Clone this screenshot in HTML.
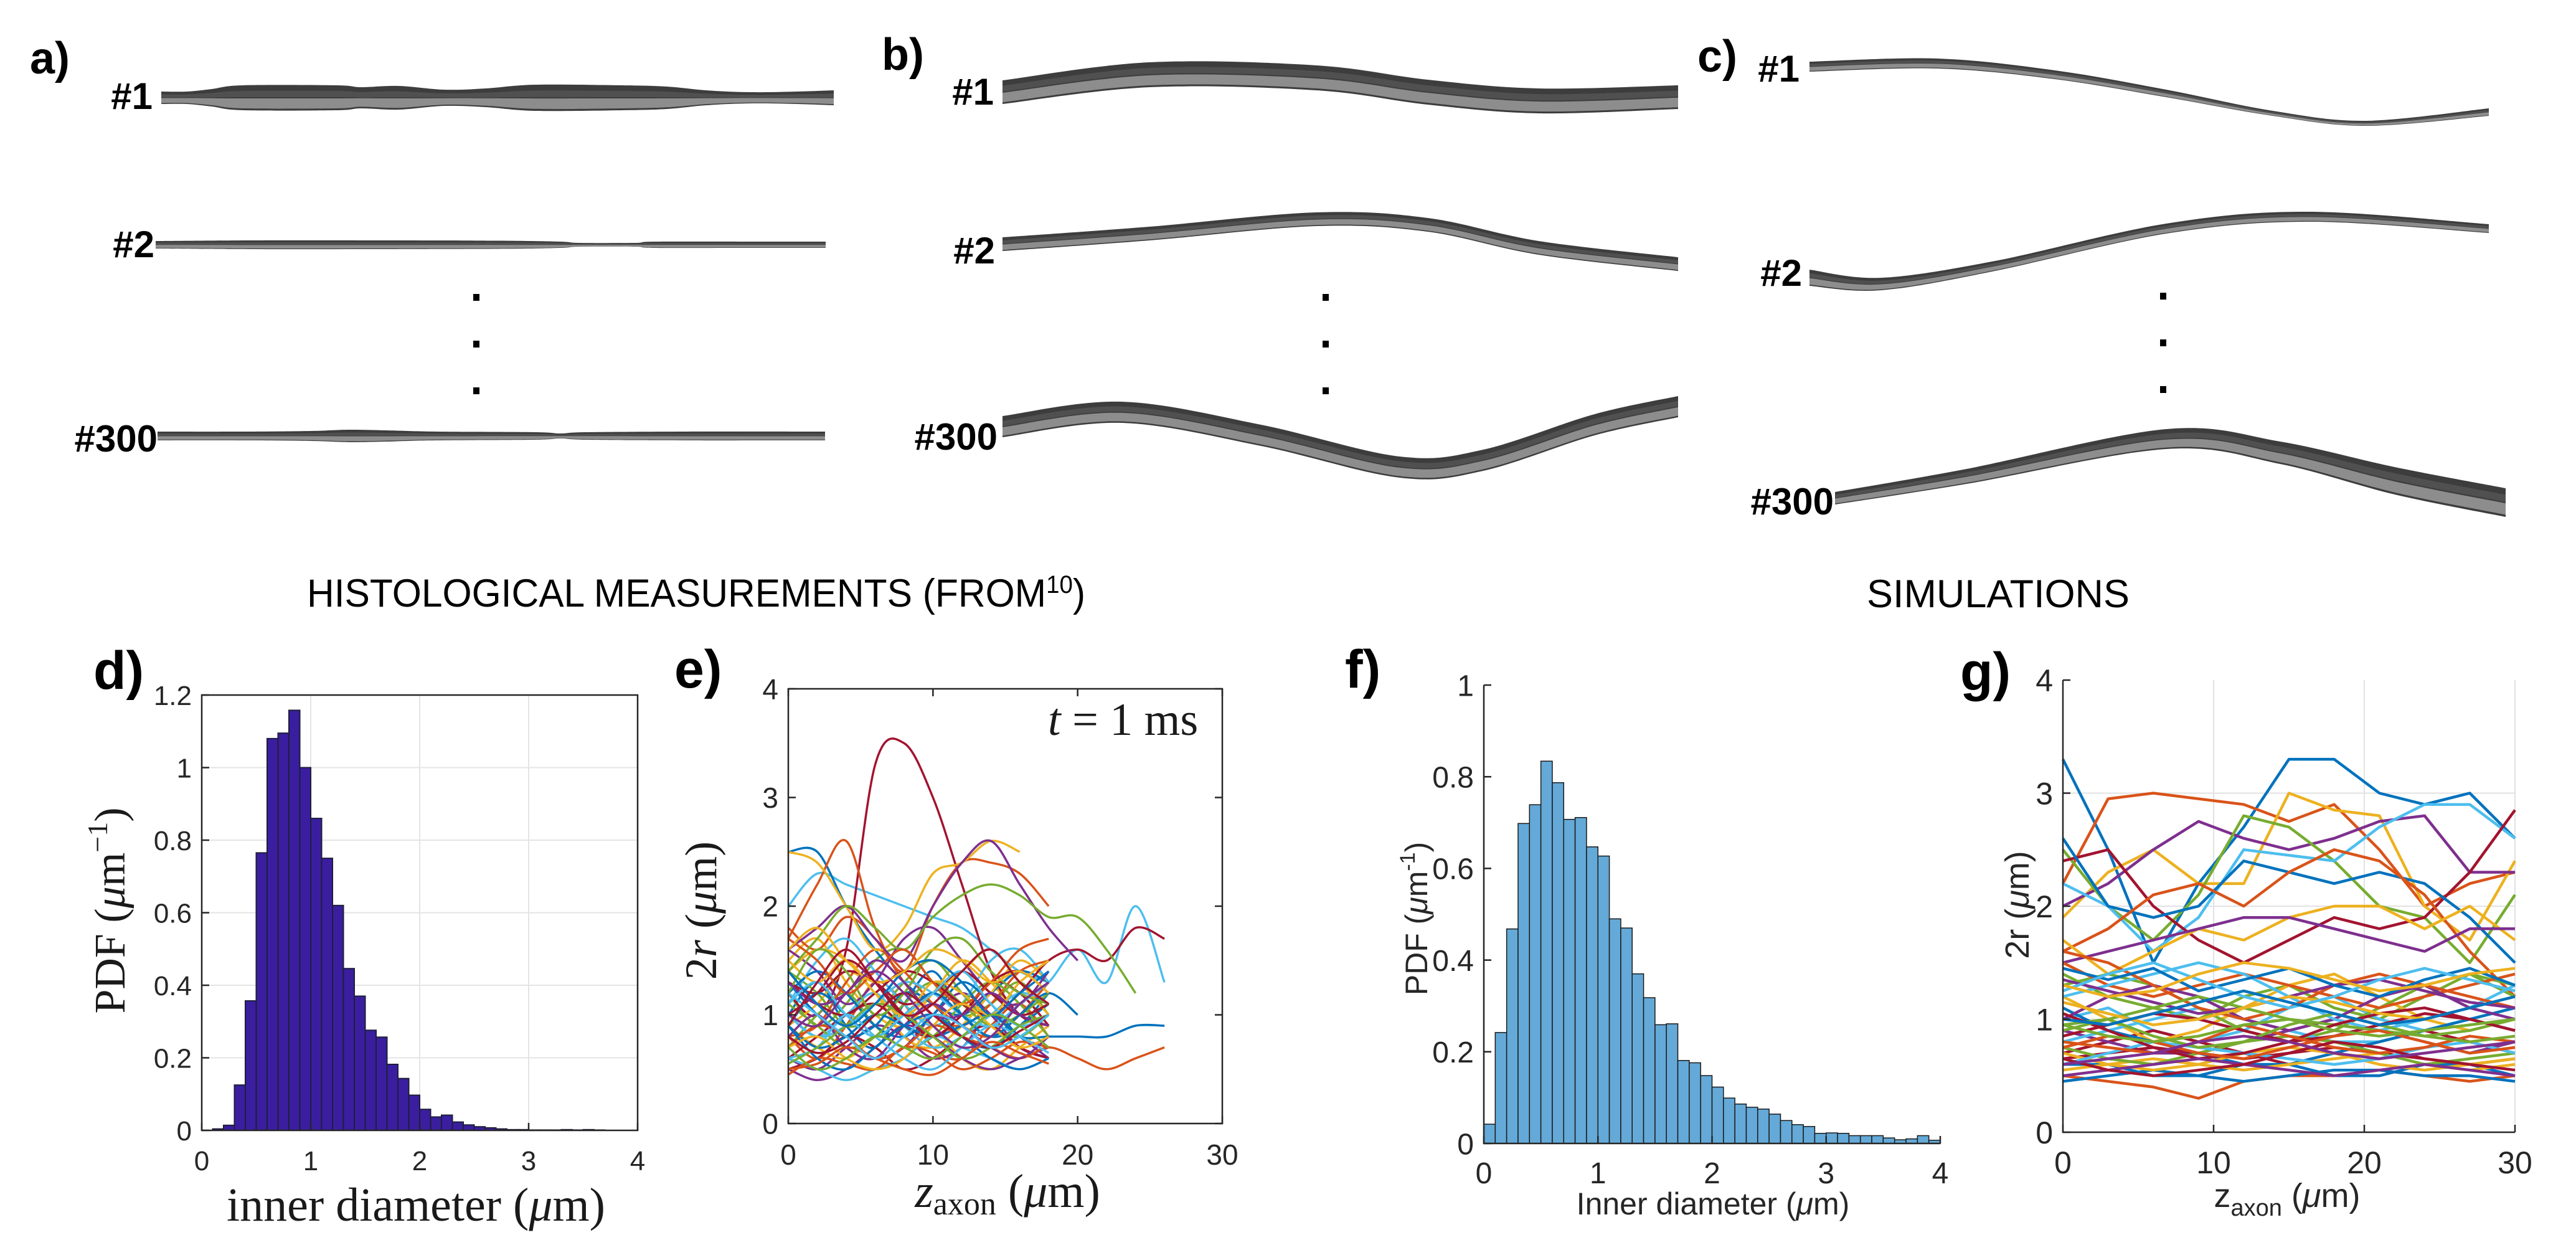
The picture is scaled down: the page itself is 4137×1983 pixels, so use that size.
<!DOCTYPE html>
<html><head><meta charset="utf-8"><title>Axon morphology figure</title>
<style>
html,body{margin:0;padding:0;background:#fff;}
svg{display:block;}
.lbl{font-family:"Liberation Sans",Arial,sans-serif;font-weight:bold;fill:#000;}
.tick{font-family:"Liberation Sans",Arial,sans-serif;fill:#262626;}
.serif{font-family:"Liberation Serif","Times New Roman",serif;fill:#1a1a1a;}
</style></head>
<body>
<svg id="fig" xmlns="http://www.w3.org/2000/svg" width="4137" height="1983" viewBox="0 0 4137 1983">
<rect width="4137" height="1983" fill="#fff"/>
<text class="lbl" x="48" y="118" font-size="72">a)</text>
<text class="lbl" x="1416" y="112" font-size="72">b)</text>
<text class="lbl" x="2726" y="115" font-size="72">c)</text>
<g id="axons"></g>
<g class="lbl" font-size="60" text-anchor="end">
<text x="245" y="175">#1</text>
<text x="248" y="413">#2</text>
<text x="253" y="725">#300</text>
<text x="1596" y="168">#1</text>
<text x="1598" y="423">#2</text>
<text x="1602" y="722">#300</text>
<text x="2890" y="131">#1</text>
<text x="2894" y="459">#2</text>
<text x="2945" y="826">#300</text>
</g>
<g fill="#000">
<rect x="760" y="472" width="10" height="11"/><rect x="760" y="547" width="10" height="11"/><rect x="760" y="622" width="10" height="11"/>
<rect x="2124" y="472" width="10" height="11"/><rect x="2124" y="547" width="10" height="11"/><rect x="2124" y="622" width="10" height="11"/>
<rect x="3469" y="470" width="10" height="11"/><rect x="3469" y="545" width="10" height="11"/><rect x="3469" y="620" width="10" height="11"/>
</g>
<text font-family="'Liberation Sans',Arial,sans-serif" font-size="63" x="493" y="974" textLength="1250" lengthAdjust="spacingAndGlyphs">HISTOLOGICAL MEASUREMENTS (FROM<tspan font-size="40" dy="-22">10</tspan><tspan dy="22">)</tspan></text>
<text font-family="'Liberation Sans',Arial,sans-serif" font-size="63" x="2998" y="975" textLength="422" lengthAdjust="spacingAndGlyphs">SIMULATIONS</text>
<text class="lbl" x="150" y="1106" font-size="86">d)</text>
<text class="lbl" x="1083" y="1104" font-size="86">e)</text>
<text class="lbl" x="2160" y="1104" font-size="86">f)</text>
<text class="lbl" x="3148" y="1108" font-size="86">g)</text>
<g id="chart-d"></g>
<g id="chart-e"></g>
<g id="chart-f"></g>
<g id="chart-g"></g>
</svg>
<script>
// ---------- data ----------
const dBinStart = 0.1;
const dBinWidth = 0.1;
const dValues = [0.004,0.014,0.125,0.357,0.765,1.08,1.095,1.158,1.0,0.86,0.75,0.62,0.446,0.37,0.276,0.257,0.182,0.143,0.097,0.058,0.037,0.042,0.023,0.015,0.01,0.007,0.004,0.002,0.002,0.001,0.001,0.001,0.002,0.001,0.002,0.001];
const dXTicks = [0,1,2,3,4];
const dYTicks = [0,0.2,0.4,0.6,0.8,1,1.2];
const dYTickLabels = ["0","0.2","0.4","0.6","0.8","1","1.2"];

const fBinStart = 0;
const fBinWidth = 0.1;
const fValues = [0.042,0.242,0.468,0.698,0.739,0.834,0.787,0.707,0.711,0.647,0.627,0.49,0.47,0.37,0.318,0.259,0.261,0.181,0.176,0.148,0.123,0.099,0.086,0.079,0.075,0.064,0.05,0.041,0.037,0.022,0.023,0.022,0.017,0.017,0.017,0.012,0.008,0.01,0.017,0.007];
const fXTicks = [0,1,2,3,4];
const fYTicks = [0,0.2,0.4,0.6,0.8,1];
const fYTickLabels = ["0","0.2","0.4","0.6","0.8","1"];

const eXStep = 2;
const eSeries = [
[1.0,1.3,0.9,0.7,1.1,1.4,1.0,0.8,0.9,1.2],
[0.8,0.6,0.9,1.3,1.1,0.7,0.6,0.9,1.1,0.8],
[1.5,1.7,1.3,1.0,0.9,1.2,1.5,1.3,1.0,0.9],
[0.6,0.5,0.7,0.9,0.8,0.6,0.7,1.0,0.8,0.6],
[1.2,0.9,1.1,1.5,1.6,1.3,1.0,1.1,1.3,1.0],
[2.0,2.3,2.2,2.1,2.0,1.9,1.8,1.6,1.4,1.3],
[1.2,1.0,1.6,3.3,3.5,3.0,2.2,1.4,1.0,0.9],
[2.5,2.5,2.0,1.6,1.3,1.1,1.0,1.2,1.4,1.3],
[1.7,2.2,2.6,1.8,1.4,2.0,2.4,2.4,2.3,2.0],
[0.9,1.1,1.4,1.2,0.8,0.7,0.9,1.2,1.5,1.3],
[0.7,0.9,0.8,0.6,0.7,1.0,1.2,1.0,0.7,0.6],
[1.4,1.2,0.9,1.0,1.3,1.5,1.2,0.9,0.8,1.0],
[1.1,1.5,1.7,1.4,1.1,0.9,1.1,1.5,1.6,1.3],
[0.5,0.6,0.8,0.7,0.5,0.6,0.8,0.9,0.7,0.6],
[1.3,1.0,0.8,0.9,1.2,1.1,0.8,0.7,0.9,1.1],
[1.8,1.6,1.9,1.7,1.3,1.0,0.9,1.1,1.4,1.5],
[0.9,0.7,0.6,0.8,1.0,0.9,0.6,0.5,0.7,0.9],
[1.6,1.4,1.1,1.3,1.7,1.8,1.5,1.2,1.1,1.4],
[0.7,1.0,1.2,0.9,0.7,0.8,1.1,1.3,1.1,0.8],
[1.0,0.8,1.0,1.2,0.9,0.7,0.8,1.0,1.2,1.1],
[0.6,0.8,1.0,1.1,0.9,0.8,1.0,1.3,1.2,0.9],
[1.2,1.4,1.2,0.9,0.8,1.0,1.3,1.1,0.8,0.7],
[0.8,0.9,1.3,1.6,1.4,1.1,0.9,0.8,1.0,1.3],
[1.4,1.6,1.5,1.2,1.0,1.2,1.4,1.6,1.3,1.0],
[0.5,0.4,0.5,0.7,0.9,0.8,0.6,0.5,0.6,0.7],
[1.1,0.9,0.7,0.8,1.1,1.3,1.1,0.9,1.0,1.2],
[1.0,0.8,0.9,1.1,1.3,1.2,1.0,0.9,1.1,1.3,1.6,1.3,2.0,1.3],
[1.3,1.1,1.0,1.2,1.4,1.3,1.1,1.0,1.2,1.5,1.6,1.5,1.8,1.7],
[0.9,0.7,0.8,1.0,0.9,0.8,0.9,1.0,0.8,0.8,0.8,0.8,0.9,0.9],
[0.7,0.9,0.8,0.6,0.7,0.9,0.8,0.7,0.6,0.7,0.6,0.5,0.6,0.7],
[2.5,2.4,2.0,1.6,1.8,2.3,2.4,2.6,2.5],
[1.6,1.8,2.0,1.7,1.5,2.0,2.4,2.6,2.2,1.8,1.5],
[1.4,1.7,2.0,1.8,1.6,1.9,2.1,2.2,2.1,1.9,1.9,1.6,1.2],
[0.6,0.5,0.4,0.5,0.6,0.8,0.7,0.6,0.5,0.6],
[1.3,1.2,1.4,1.3,1.1,1.2,1.4,1.2,1.0,1.1],
[0.9,1.2,1.0,0.8,1.0,1.2,1.0,0.8,1.0,1.2,1.0],
[0.45,0.6,0.55,0.5,0.7,0.65,0.5,0.6,0.75,0.7],
[1.5,1.3,1.5,1.2,1.0,1.3,1.2,1.0,1.3,1.5],
[0.8,1.0,0.7,0.6,0.9,1.1,0.9,0.7,0.6,0.8],
[1.2,1.6,1.4,1.0,1.2,1.6,1.7,1.4,1.2,1.1],
[0.6,0.7,1.0,0.8,0.6,0.5,0.7,0.9,0.8,0.65],
[1.0,1.2,1.5,1.3,1.0,0.8,1.0,1.3,1.4,1.2],
[0.9,0.6,0.5,0.7,0.9,1.0,0.8,0.6,0.5,0.6],
[1.7,1.5,1.2,1.4,1.6,1.3,1.1,1.3,1.6,1.7],
[0.7,0.8,0.6,0.5,0.6,0.9,1.1,0.9,0.7,0.8],
[1.3,1.1,1.2,1.5,1.3,1.0,1.0,1.2,1.0,0.9],
[0.55,0.7,0.9,1.1,1.0,0.8,0.6,0.7,0.9,1.0],
[1.1,1.3,1.0,0.8,1.0,1.2,1.4,1.1,0.9,1.0],
[0.8,0.65,0.75,1.0,1.2,1.0,0.8,0.7,0.85,1.0],
[1.4,1.1,0.9,1.1,1.4,1.5,1.3,1.0,1.2,1.4],
[0.5,0.55,0.7,0.6,0.5,0.45,0.6,0.75,0.65,0.55],
[1.6,1.8,1.5,1.3,1.4,1.6,1.5,1.3,1.4,1.2],
[1.0,0.9,1.2,1.4,1.2,0.9,0.7,0.8,1.1,1.3],
[0.7,0.5,0.6,0.8,0.7,0.6,0.8,1.0,0.9,0.7],
[1.2,1.0,0.8,0.6,0.8,1.0,0.9,0.7,0.8,1.0],
[0.9,1.3,1.6,1.3,1.0,1.1,1.4,1.6,1.3,1.1]
];
const eXTicks = [0,10,20,30];
const eYTicks = [0,1,2,3,4];

const gXStep = 3;
const gSeries = [
[3.3,2.5,1.5,2.2,2.7,3.3,3.3,3.0,2.9,3.0,2.6],
[2.2,2.95,3.0,2.95,2.9,2.75,2.9,2.5,2.0,2.2,2.3],
[1.9,2.3,2.5,2.2,2.2,3.0,2.85,2.8,2.0,1.7,2.4],
[2.0,2.2,2.5,2.75,2.6,2.5,2.6,2.75,2.8,2.3,2.3],
[2.5,2.0,1.7,2.1,2.8,2.7,2.4,2.0,1.9,1.5,2.1],
[2.2,2.0,1.6,1.9,2.5,2.45,2.4,2.7,2.9,2.9,2.6],
[2.4,2.5,2.0,1.7,1.5,1.7,1.9,1.8,1.9,2.3,2.85],
[2.6,2.0,1.9,2.0,2.4,2.3,2.2,2.3,2.2,1.9,1.5],
[1.6,1.8,2.1,2.2,2.0,2.3,2.5,2.4,2.1,1.6,1.2],
[1.7,1.4,1.6,1.8,1.7,1.9,2.0,2.0,1.8,2.0,1.7],
[1.5,1.6,1.7,1.8,1.9,1.9,1.8,1.7,1.6,1.8,1.8],
[1.4,1.2,1.1,1.0,1.2,1.3,1.1,1.0,1.2,1.4,1.3],
[1.0,1.1,0.9,0.8,0.9,1.1,1.2,1.0,0.9,1.0,1.1],
[0.7,0.8,0.9,0.8,0.7,0.6,0.7,0.8,0.9,0.8,0.7],
[0.6,0.6,0.5,0.5,0.6,0.6,0.5,0.5,0.6,0.6,0.5],
[0.5,0.45,0.4,0.3,0.45,0.5,0.5,0.55,0.5,0.45,0.5],
[1.2,1.0,0.8,0.9,1.1,1.3,1.4,1.2,1.0,0.9,1.0],
[0.9,0.8,0.7,0.7,0.8,0.9,1.0,0.9,0.8,0.7,0.8],
[1.3,1.4,1.3,1.1,0.9,0.8,0.9,1.1,1.3,1.4,1.2],
[0.8,0.9,1.0,1.1,1.0,0.9,0.8,0.8,0.9,1.0,0.9],
[0.65,0.7,0.75,0.7,0.65,0.7,0.75,0.7,0.65,0.6,0.65],
[1.1,0.9,0.8,0.7,0.6,0.6,0.7,0.8,0.9,1.0,1.1],
[1.5,1.3,1.2,1.3,1.4,1.3,1.2,1.1,1.2,1.3,1.4],
[0.55,0.6,0.65,0.6,0.55,0.6,0.65,0.7,0.6,0.55,0.6],
[1.0,1.2,1.3,1.2,1.0,0.9,1.0,1.2,1.3,1.1,1.0],
[0.75,0.65,0.6,0.7,0.8,0.85,0.8,0.7,0.6,0.65,0.7],
[1.2,1.3,1.4,1.5,1.4,1.2,1.0,0.9,1.0,1.1,1.3],
[0.85,0.95,1.05,1.0,0.9,0.8,0.85,0.95,1.05,1.0,0.9],
[0.45,0.5,0.55,0.5,0.45,0.5,0.55,0.55,0.5,0.5,0.45],
[1.6,1.5,1.3,1.1,1.0,1.1,1.3,1.4,1.3,1.2,1.1],
[0.7,0.6,0.55,0.6,0.7,0.75,0.7,0.6,0.55,0.6,0.65],
[1.35,1.25,1.15,1.05,1.1,1.2,1.3,1.35,1.25,1.15,1.1],
[0.95,1.0,1.1,1.2,1.1,1.0,0.95,0.9,0.85,0.9,1.0],
[0.6,0.7,0.8,0.75,0.7,0.65,0.6,0.65,0.75,0.8,0.7],
[1.05,0.9,0.75,0.65,0.7,0.8,0.95,1.05,1.1,1.0,0.9],
[1.45,1.35,1.45,1.25,1.35,1.45,1.3,1.2,1.35,1.45,1.3],
[0.8,0.75,0.7,0.8,0.95,0.85,0.75,0.7,0.75,0.85,0.8],
[1.15,1.05,0.95,1.0,1.1,1.2,1.15,1.05,1.0,1.1,1.2],
[0.5,0.55,0.6,0.65,0.6,0.55,0.5,0.55,0.6,0.55,0.5],
[0.9,1.0,0.85,0.75,0.8,0.95,1.05,0.95,0.85,0.8,0.85],
[1.25,1.4,1.5,1.35,1.2,1.1,1.2,1.35,1.45,1.35,1.25],
[0.65,0.55,0.5,0.55,0.6,0.7,0.8,0.75,0.65,0.6,0.55],
[1.0,0.95,1.05,1.15,1.25,1.15,1.05,0.95,1.0,1.1,1.2],
[0.75,0.85,0.8,0.7,0.65,0.75,0.85,0.9,0.8,0.7,0.75],
[1.3,1.2,1.25,1.4,1.5,1.45,1.35,1.25,1.3,1.4,1.45],
[0.6,0.65,0.7,0.8,0.85,0.8,0.7,0.65,0.7,0.75,0.8],
[0.95,0.85,0.8,0.85,0.95,1.0,0.9,0.85,0.9,0.95,1.0]
];
const gXTicks = [0,10,20,30];
const gYTicks = [0,1,2,3,4];

const palette = ["#0072BD","#D95319","#EDB120","#7E2F8E","#77AC30","#4DBEEE","#A2142F"];

// ---------- helpers ----------
const NS = "http://www.w3.org/2000/svg";
function el(tag, attrs, parent){
  const e = document.createElementNS(NS, tag);
  for (const k in attrs) e.setAttribute(k, attrs[k]);
  if (parent) parent.appendChild(e);
  return e;
}
function lin(p0,p1,d0,d1){ return v => p0 + (v-d0)/(d1-d0)*(p1-p0); }
function spline(pts){
  if (pts.length < 2) return "";
  let d = "M" + pts[0][0].toFixed(1) + "," + pts[0][1].toFixed(1);
  for (let i=0;i<pts.length-1;i++){
    const p0 = pts[Math.max(0,i-1)], p1 = pts[i], p2 = pts[i+1], p3 = pts[Math.min(pts.length-1,i+2)];
    const c1x = p1[0] + (p2[0]-p0[0])/6, c1y = p1[1] + (p2[1]-p0[1])/6;
    const c2x = p2[0] - (p3[0]-p1[0])/6, c2y = p2[1] - (p3[1]-p1[1])/6;
    d += " C" + c1x.toFixed(1)+","+c1y.toFixed(1)+" "+c2x.toFixed(1)+","+c2y.toFixed(1)+" "+p2[0].toFixed(1)+","+p2[1].toFixed(1);
  }
  return d;
}
function splineCont(pts){ return spline(pts).replace(/^M/,"L"); }

// ---------- axons ----------
const axG = document.getElementById("axons");
function axon(name, pts){
  const g = el("g", {}, axG);
  
  
  const top = pts.map(p=>[p[0], p[1]-p[2]]);
  const bot = pts.map(p=>[p[0], p[1]+p[2]]).reverse();
  el("path", {d: spline(top) + " " + splineCont(bot) + " Z", fill:"#3d3d3d"}, g);
  const mid = pts.map(p=>[p[0], p[1]+p[2]*0.05]);
  const bot2 = pts.map(p=>[p[0], p[1]+p[2]*0.85]).reverse();
  el("path", {d: spline(mid) + " " + splineCont(bot2) + " Z", fill:"#8d8d8d"}, g);
  const hi = pts.map(p=>[p[0], p[1]-p[2]*0.55]);
  const hi2 = pts.map(p=>[p[0], p[1]-p[2]*0.05]).reverse();
  el("path", {d: spline(hi) + " " + splineCont(hi2) + " Z", fill:"#555", opacity:"0.8"}, g);
}
axon("axon-a-1", [[259,157,10],[300,157,10],[340,157,14],[390,157,20],[540,157,20],[580,157,17],[640,157,19],[714,157,13],[780,157,15],[860,157,21],[1000,157,20],[1071,157,18],[1134,157,12],[1205,157,9],[1280,157,10],[1339,157,12]]);
axon("axon-a-2", [[250,393,6],[400,393,7],[600,393,7],[800,393,6.5],[900,393,5],[930,393,3],[1020,393,3],[1050,393,5],[1200,393,5],[1326,393,5]]);
axon("axon-a-300", [[253,700,7],[400,700,7],[500,700,8],[560,700,10],[620,700,9],[700,700,7],[860,700,6],[900,700,4],[940,700,6],[1100,700,7],[1325,700,7]]);
axon("axon-b-1", [[1610,148,19],[1846,120,20],[2114,125,20],[2293,148,20],[2471,162,20],[2695,156,19]]);
axon("axon-b-2", [[1610,392,11],[1846,375,11],[2114,352,11],[2293,361,11],[2471,398,11],[2695,424,11]]);
axon("axon-b-300", [[1610,685,17],[1802,662,17],[2025,699,17],[2248,750,17],[2382,739,17],[2561,682,17],[2695,653,17]]);
axon("axon-c-1", [[2906,107,8],[3112,102,8],[3300,120,7],[3479,150,6],[3650,182,4],[3800,198,4],[3997,180,6]]);
axon("axon-c-2", [[2906,446,13],[3021,456,10],[3204,427,8],[3479,367,8],[3708,348,8],[3997,367,7]]);
axon("axon-c-300", [[2947,800,10],[3158,765,12],[3479,705,16],[3662,727,18],[3846,772,22],[4024,807,23]]);

// ---------- histogram helper ----------
function histogram(gid, cfg){
  const g = document.getElementById(gid);
  const sx = lin(cfg.x0, cfg.x1, 0, cfg.xmax), sy = lin(cfg.y0, cfg.y1, 0, cfg.ymax);
  if (cfg.grid){
    cfg.xTicks.forEach(t=>{ if(t>0&&t<cfg.xmax){ const l=el("line",{x1:sx(t),x2:sx(t),y1:cfg.y0,y2:cfg.y1,stroke:"#e4e4e4","stroke-width":2},g);   }});
    cfg.yTicks.forEach(t=>{ if(t>0&&t<cfg.ymax){ const l=el("line",{x1:cfg.x0,x2:cfg.x1,y1:sy(t),y2:sy(t),stroke:"#e4e4e4","stroke-width":2},g);   }});
  }
  cfg.values.forEach((v,i)=>{
    const a = cfg.start + i*cfg.width, b = a + cfg.width;
    const r = el("rect",{x:sx(a), y:sy(v), width:sx(b)-sx(a), height:cfg.y0-sy(v), fill:cfg.fill, stroke:cfg.edge, "stroke-width":cfg.edgeW}, g);
    
    
  });
  if (cfg.box){
    const b = el("rect",{x:cfg.x0,y:cfg.y1,width:cfg.x1-cfg.x0,height:cfg.y0-cfg.y1,fill:"none",stroke:"#262626","stroke-width":2.5},g);
     
  } else {
    const ax = el("path",{d:`M${cfg.x0},${cfg.y1} L${cfg.x0},${cfg.y0} L${cfg.x1},${cfg.y0}`,fill:"none",stroke:"#262626","stroke-width":2.5},g);
     
  }
  cfg.xTicks.forEach(t=>{
    el("line",{x1:sx(t),x2:sx(t),y1:cfg.y0,y2:cfg.y0-12,stroke:"#262626","stroke-width":2.5},g);
    const tx = el("text",{x:sx(t), y:cfg.y0+64, "text-anchor":"middle", class:"tick", "font-size":cfg.fs},g);
    tx.textContent = String(t);
    
    
  });
  cfg.yTicks.forEach((t,i)=>{
    el("line",{x1:cfg.x0,x2:cfg.x0+12,y1:sy(t),y2:sy(t),stroke:"#262626","stroke-width":2.5},g);
    const tx = el("text",{x:cfg.x0-16, y:sy(t)+cfg.fs*0.36, "text-anchor":"end", class:"tick", "font-size":cfg.fs},g);
    tx.textContent = cfg.yLabels[i];
    
    
  });
}
histogram("chart-d",{x0:324,x1:1024,y0:1815,y1:1116,xmax:4,ymax:1.2,values:dValues,start:dBinStart,width:dBinWidth,fill:"#3A1E9F",edge:"#1e1e3a",edgeW:2,grid:true,box:true,xTicks:dXTicks,yTicks:dYTicks,yLabels:dYTickLabels,fs:44});
histogram("chart-f",{x0:2383,x1:3116,y0:1836,y1:1100,xmax:4,ymax:1,values:fValues,start:fBinStart,width:fBinWidth,fill:"#64A9D7",edge:"#1a1a1a",edgeW:1.5,grid:false,box:false,xTicks:fXTicks,yTicks:fYTicks,yLabels:fYTickLabels,fs:48});

// ---------- line chart helper ----------
function lines(gid, cfg){
  const g = document.getElementById(gid);
  const sx = lin(cfg.x0,cfg.x1,0,cfg.xmax), sy = lin(cfg.y0,cfg.y1,0,cfg.ymax);
  if (cfg.grid){
    cfg.xTicks.forEach(t=>{ if(t>0){ const l=el("line",{x1:sx(t),x2:sx(t),y1:cfg.y0,y2:cfg.y1,stroke:"#e2e2e2","stroke-width":2},g);   }});
    cfg.yTicks.forEach(t=>{ if(t>0&&t<cfg.ymax){ const l=el("line",{x1:cfg.x0,x2:cfg.x1,y1:sy(t),y2:sy(t),stroke:"#e2e2e2","stroke-width":2},g);   }});
  }
  cfg.series.forEach((s,i)=>{
    const pts = s.map((v,j)=>[sx(j*cfg.step), sy(v)]);
    const d = cfg.smooth ? spline(pts) : "M" + pts.map(p=>p[0].toFixed(1)+","+p[1].toFixed(1)).join(" L");
    const p = el("path",{d:d, fill:"none", stroke:palette[i%palette.length], "stroke-width":cfg.sw, "stroke-linejoin":"round"}, g);
    
    
  });
  if (cfg.box){
    const b = el("rect",{x:cfg.x0,y:cfg.y1,width:cfg.x1-cfg.x0,height:cfg.y0-cfg.y1,fill:"none",stroke:"#262626","stroke-width":2.5},g);
     
  } else {
    const ax = el("path",{d:`M${cfg.x0},${cfg.y1} L${cfg.x0},${cfg.y0} L${cfg.x1},${cfg.y0}`,fill:"none",stroke:"#262626","stroke-width":2.5},g);
     
  }
  cfg.xTicks.forEach(t=>{
    el("line",{x1:sx(t),x2:sx(t),y1:cfg.y0,y2:cfg.y0-12,stroke:"#262626","stroke-width":2.5},g);
    if (cfg.box) el("line",{x1:sx(t),x2:sx(t),y1:cfg.y1,y2:cfg.y1+12,stroke:"#262626","stroke-width":2.5},g);
    const tx = el("text",{x:sx(t), y:cfg.y0+66, "text-anchor":"middle", class:"tick", "font-size":cfg.fs},g);
    tx.textContent = String(t);
    
    
  });
  cfg.yTicks.forEach(t=>{
    el("line",{x1:cfg.x0,x2:cfg.x0+12,y1:sy(t),y2:sy(t),stroke:"#262626","stroke-width":2.5},g);
    if (cfg.box) el("line",{x1:cfg.x1,x2:cfg.x1-12,y1:sy(t),y2:sy(t),stroke:"#262626","stroke-width":2.5},g);
    const tx = el("text",{x:cfg.x0-16, y:sy(t)+cfg.fs*0.36, "text-anchor":"end", class:"tick", "font-size":cfg.fs},g);
    tx.textContent = String(t);
    
    
  });
}
lines("chart-e",{x0:1266,x1:1963,y0:1804,y1:1106,xmax:30,ymax:4,series:eSeries,step:eXStep,smooth:true,sw:3.5,grid:false,box:true,xTicks:eXTicks,yTicks:eYTicks,fs:46});
lines("chart-g",{x0:3313,x1:4039,y0:1818,y1:1092,xmax:30,ymax:4,series:gSeries,step:gXStep,smooth:false,sw:4.5,grid:true,box:false,xTicks:gXTicks,yTicks:gYTicks,fs:50});
</script>
<div style="position:absolute;left:0;top:0;width:4137px;height:1983px;pointer-events:none">
<svg width="4137" height="1983" viewBox="0 0 4137 1983" style="position:absolute;left:0;top:0">
<text class="serif" font-size="70" text-anchor="middle" transform="translate(200,1462) rotate(-90)">PDF (<tspan font-style="italic">μ</tspan>m<tspan font-size="46" dy="-28">−1</tspan><tspan dy="28">)</tspan></text>
<text class="serif" font-size="76" text-anchor="middle" x="668" y="1960">inner diameter (<tspan font-style="italic">μ</tspan>m)</text>
<text class="serif" font-size="72" text-anchor="middle" transform="translate(1150,1462) rotate(-90)">2<tspan font-style="italic">r</tspan> (<tspan font-style="italic">μ</tspan>m)</text>
<text class="serif" font-size="76" text-anchor="middle" x="1618" y="1938"><tspan font-style="italic">z</tspan><tspan font-size="52" dy="12">axon</tspan><tspan dy="-12"> (</tspan><tspan font-style="italic">μ</tspan>m)</text>
<text class="serif" font-size="74" x="1683" y="1180"><tspan font-style="italic">t</tspan> = 1 ms</text>
<text font-family="'Liberation Sans',Arial,sans-serif" fill="#262626" font-size="50" text-anchor="middle" transform="translate(2292,1475) rotate(-90)">PDF (<tspan font-style="italic">μ</tspan>m<tspan font-size="34" dy="-20">-1</tspan><tspan dy="20">)</tspan></text>
<text font-family="'Liberation Sans',Arial,sans-serif" fill="#262626" font-size="50" text-anchor="middle" x="2751" y="1950">Inner diameter (<tspan font-style="italic">μ</tspan>m)</text>
<text font-family="'Liberation Sans',Arial,sans-serif" fill="#262626" font-size="54" text-anchor="middle" transform="translate(3258,1453) rotate(-90)">2r (<tspan font-style="italic">μ</tspan>m)</text>
<text font-family="'Liberation Sans',Arial,sans-serif" fill="#262626" font-size="54" text-anchor="middle" x="3673" y="1938">z<tspan font-size="38" dy="14">axon</tspan><tspan dy="-14"> (</tspan><tspan font-style="italic">μ</tspan>m)</text>
</svg>
</div>
</body></html>
